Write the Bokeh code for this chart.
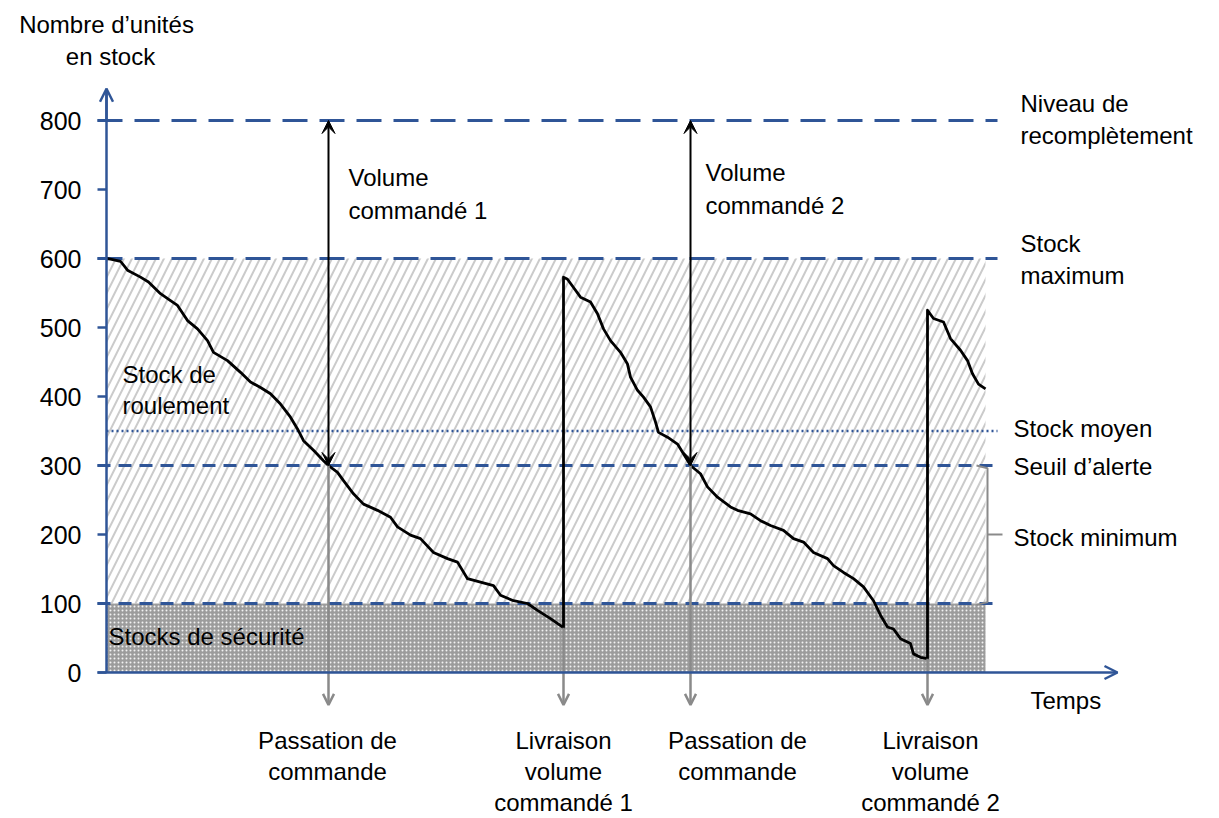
from bokeh.plotting import figure
from bokeh.models import (Range1d, LinearAxis, FixedTicker, Arrow, VeeHead, OpenHead,
                          ColumnDataSource)
from bokeh.core.properties import value
from bokeh.embed import file_html
from bokeh.resources import INLINE

# ---------------- data ----------------
y_ticks = [0, 100, 200, 300, 400, 500, 600, 700, 800]

# reference levels (units in stock)
level_names = ["Niveau de recomplètement", "Stock maximum", "Seuil d’alerte", "Stock de sécurité"]
level_values = [800, 600, 300, 100]
stock_moyen = 350

# time axis (arbitrary time units)
t_end = 879          # end of the shaded period
t_lines_end = 891    # end of the reference lines
t_axis_end = 1011    # tip of the time axis

# events
passation_t = [222, 584]
livraison_t = [457, 821]
livraison_before = [65, 20]
livraison_after = [573, 525]

# stock curve (time, units)
stock_t = [0, 4, 14, 21, 34, 42, 54, 64, 71, 81, 91, 101, 107, 121, 134, 144, 154, 164, 174, 184,
           191, 197, 207, 217, 222, 231, 237, 247, 257, 271, 284, 291, 304, 314, 327, 341, 351, 361,
           374, 387, 394, 407, 421, 431, 444, 457,
           457, 461, 467, 474, 484, 491, 497, 504, 514, 521, 524, 531, 537, 544, 549, 552, 561, 571,
           577, 582, 584, 594, 601, 611, 624, 631, 644, 654, 664, 677, 687, 697, 707, 721, 727, 737,
           747, 757, 767, 774, 781, 787, 794, 804, 807, 814, 821,
           821, 827, 837, 844, 854, 861, 866, 872, 879]
stock_v = [600, 599, 596, 583, 573, 566, 549, 539, 532, 510, 498, 481, 464, 452, 435, 421, 413, 404, 389, 370,
           353, 336, 322, 307, 300, 290, 278, 259, 244, 235, 225, 211, 199, 194, 174, 165, 160, 136,
           131, 126, 112, 104, 100, 90, 78, 65,
           573, 570, 558, 544, 537, 520, 498, 481, 464, 447, 428, 409, 399, 385, 363, 348, 341, 331,
           317, 305, 300, 288, 269, 254, 240, 235, 230, 220, 213, 206, 194, 189, 174, 165, 155, 145,
           136, 124, 104, 83, 66, 63, 49, 42, 27, 22, 20,
           525, 513, 508, 484, 467, 452, 433, 418, 411]

# texts
left_text = ["Volume", "commandé 1", "Volume", "commandé 2",
             "Niveau de", "recomplètement", "Stock", "maximum",
             "Stock moyen", "Seuil d’alerte", "Stock minimum",
             "Stock de", "roulement", "Stocks de sécurité", "Temps"]
left_x = [242, 242, 599, 599, 914, 914, 914, 914, 907, 907, 907, 16, 16, 2, 924]
left_y = [717, 670, 725, 677, 825, 778, 622, 575, 354, 299, 196, 432, 387, 52, -41]

center_text = ["Nombre d’unités", "en stock",
               "Passation de", "commande",
               "Livraison", "volume", "commandé 1",
               "Passation de", "commande",
               "Livraison", "volume", "commandé 2"]
center_x = [0, 4, 221, 221, 457, 457, 457, 631, 631, 824, 824, 824]
center_y = [939, 893, -99, -144, -99, -144, -188, -99, -144, -99, -144, -188]

# ---------------- style ----------------
BLUE = "#2F5597"
GRAY = "#8a8a8a"
FONT = "Liberation Sans"

W, H = 1219, 816
px_per_unit = 0.69
p = figure(width=W, height=H,
           x_range=Range1d(-106, W - 106),
           y_range=Range1d(-(H - 672) / px_per_unit, 672 / px_per_unit),
           min_border_left=0, min_border_right=0, min_border_top=0, min_border_bottom=0,
           x_axis_type=None, y_axis_type=None,
           toolbar_location=None, output_backend="svg")
p.outline_line_color = None
p.grid.visible = False
p.background_fill_color = "white"

# shaded zones
p.quad(left=[0], right=[t_end], bottom=[level_values[3]], top=[level_values[1]],
       fill_color="white", line_color=None,
       hatch_pattern="right_diagonal_line", hatch_color="#cbcbcb",
       hatch_scale=16, hatch_weight=2)
p.quad(left=[0], right=[t_end], bottom=[0], top=[level_values[3]],
       fill_color="#9c9c9c", line_color=None,
       hatch_pattern="dot", hatch_color="#f2f2f2",
       hatch_scale=4, hatch_weight=2.2)

# reference lines
p.segment(x0=[-9, -9], x1=[t_lines_end, t_lines_end], y0=level_values[:2], y1=level_values[:2],
          line_color=BLUE, line_width=3, line_dash="25 12")
p.segment(x0=[-9, -9], x1=[t_lines_end - 4, t_lines_end - 4], y0=level_values[2:], y1=level_values[2:],
          line_color=BLUE, line_width=3, line_dash="13 8")
p.segment(x0=[0], x1=[t_lines_end], y0=[stock_moyen], y1=[stock_moyen],
          line_color=BLUE, line_width=2.5, line_dash="2 3")

# brace for "Stock minimum"
bx = t_end + 2
p.multi_line(xs=[[bx - 11, bx, bx, bx - 11], [bx, bx + 15]],
             ys=[[level_values[2], level_values[2] - 4, level_values[3] + 2, level_values[3] - 2],
                 [(level_values[2] + level_values[3]) / 2] * 2],
             line_color=GRAY, line_width=2)

# gray event arrows to the time axis
ev_x = [passation_t[0], livraison_t[0], passation_t[1], livraison_t[1]]
ev_y0 = [level_values[2], livraison_before[0], level_values[2], livraison_before[1]]
ev_src = ColumnDataSource(dict(x=ev_x, y0=ev_y0, y1=[-47] * 4))
p.add_layout(Arrow(x_start="x", y_start="y0", x_end="x", y_end="y1", source=ev_src,
                   line_color=GRAY, line_width=2.5,
                   end=OpenHead(size=11, line_color=GRAY, line_width=2.5)))

# stock curve
p.line(stock_t, stock_v, line_color="black", line_width=2.8, line_join="round")

# order volume arrows
vol_src = ColumnDataSource(dict(x=passation_t, y0=[level_values[2]] * 2, y1=[level_values[0]] * 2))
p.add_layout(Arrow(x_start="x", y_start="y0", x_end="x", y_end="y1", source=vol_src,
                   line_color="black", line_width=2,
                   start=VeeHead(size=13, fill_color="black", line_color="black"),
                   end=VeeHead(size=13, fill_color="black", line_color="black")))

# axes
yaxis = LinearAxis(ticker=FixedTicker(ticks=y_ticks), bounds=(0, 846), fixed_location=0)
yaxis.axis_line_color = BLUE
yaxis.axis_line_width = 2.5
yaxis.major_tick_line_color = BLUE
yaxis.major_tick_line_width = 2.5
yaxis.major_tick_out = 9
yaxis.major_tick_in = 0
yaxis.minor_tick_line_color = None
yaxis.major_label_text_font = FONT
yaxis.major_label_text_font_size = "25px"
yaxis.major_label_text_color = "black"
yaxis.major_label_standoff = 16
p.add_layout(yaxis, "left")

p.add_layout(Arrow(x_start=0, y_start=800, x_end=0, y_end=846,
                   line_color=BLUE, line_width=2.5,
                   end=OpenHead(size=13, line_color=BLUE, line_width=2.5)))
p.add_layout(Arrow(x_start=-9, y_start=0, x_end=t_axis_end, y_end=0,
                   line_color=BLUE, line_width=2.5,
                   end=OpenHead(size=13, line_color=BLUE, line_width=2.5)))

# texts
p.text(x=left_x, y=left_y, text=left_text,
       text_font=value(FONT), text_font_size=value("24px"),
       text_color="black", text_align="left", text_baseline="middle")
p.text(x=center_x, y=center_y, text=center_text,
       text_font=value(FONT), text_font_size=value("24px"),
       text_color="black", text_align="center", text_baseline="middle")

open("out.html", "w").write(file_html(p, INLINE))
